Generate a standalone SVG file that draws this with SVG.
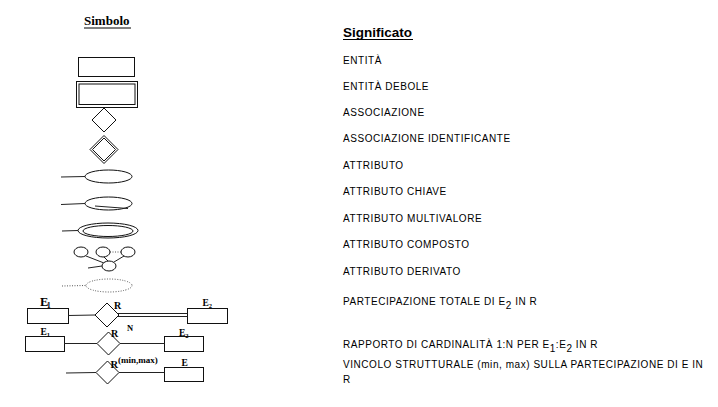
<svg xmlns="http://www.w3.org/2000/svg" width="718" height="407" viewBox="0 0 718 407">
  <style>
    .sh { fill: #fff; stroke: #111; stroke-width: 1; }
    .ln { fill: none; stroke: #222; stroke-width: 1; }
    .dot { fill: none; stroke: #555; stroke-width: 1; stroke-dasharray: 1 1.5; }
    .hd { font-family: "Liberation Serif", serif; font-weight: bold; font-size: 13px; fill: #000; }
    .lb { font-family: "Liberation Serif", serif; font-weight: bold; font-size: 9px; fill: #000; }
    .tx { font-family: "Liberation Sans", Arial, sans-serif; font-size: 10px; letter-spacing: 0.55px; fill: #000; }
    .tt { font-family: "Liberation Sans", Arial, sans-serif; font-weight: bold; font-size: 13.5px; fill: #000; }
  </style>
  <rect width="718" height="407" fill="#fff"/>

  <!-- column headings -->
  <g id="heading-symbols">
    <text class="hd" x="84" y="25">Simbolo</text>
    <line x1="84" y1="28" x2="131" y2="28" stroke="#000" stroke-width="1"/>
  </g>
  <g id="heading-meanings">
    <text class="tt" x="343" y="37">Significato</text>
    <line x1="343" y1="39.5" x2="413" y2="39.5" stroke="#000" stroke-width="1.2"/>
  </g>

  <!-- symbols -->
  <g id="entity">
    <rect class="sh" x="78.5" y="57.5" width="56" height="19"/>
  </g>
  <g id="weak-entity">
    <rect class="sh" x="76.5" y="81.5" width="61" height="26"/>
    <rect class="sh" x="79" y="84" width="56" height="20.5"/>
  </g>
  <g id="relationship">
    <polygon class="sh" points="104,108 116,120 104,132 92,120"/>
  </g>
  <g id="identifying-relationship">
    <polygon class="sh" points="104,135.5 118,149.5 104,163.5 90,149.5"/>
    <polygon class="sh" points="104,138 115.5,149.5 104,161 92.5,149.5"/>
  </g>
  <g id="attribute">
    <line class="ln" x1="61" y1="177" x2="85" y2="176.5"/>
    <ellipse class="sh" cx="108.5" cy="176.5" rx="23.5" ry="6.5"/>
  </g>
  <g id="key-attribute">
    <line class="ln" x1="61" y1="204.5" x2="85" y2="203.5"/>
    <ellipse class="sh" cx="108.5" cy="203.5" rx="23.5" ry="6.5"/>
    <line class="ln" x1="95" y1="206" x2="128" y2="208.5"/>
  </g>
  <g id="multivalued-attribute">
    <line class="ln" x1="62" y1="231" x2="78" y2="230.5"/>
    <ellipse class="sh" cx="108" cy="230.5" rx="30" ry="7.5"/>
    <ellipse class="sh" cx="108" cy="231" rx="25" ry="5.5"/>
  </g>
  <g id="composite-attribute">
    <line class="ln" x1="88" y1="268" x2="102" y2="266"/>
    <line class="ln" x1="86" y1="256" x2="104" y2="263"/>
    <line class="ln" x1="104" y1="257" x2="108" y2="261"/>
    <line class="ln" x1="124" y1="256" x2="114" y2="262"/>
    <line class="dot" x1="110" y1="252" x2="121" y2="252"/>
    <ellipse class="sh" cx="81" cy="252" rx="7" ry="5"/>
    <ellipse class="sh" cx="103" cy="252" rx="7" ry="5"/>
    <ellipse class="sh" cx="128" cy="252" rx="7" ry="5"/>
    <ellipse class="sh" cx="109" cy="266" rx="7" ry="5"/>
  </g>
  <g id="derived-attribute">
    <line class="dot" x1="62" y1="286" x2="86" y2="285.5"/>
    <ellipse class="dot" cx="109" cy="285.5" rx="23" ry="6.5"/>
  </g>

  <!-- total participation example -->
  <g id="row1-e1">
    <rect class="sh" x="27.5" y="308.5" width="41" height="15"/>
    <text class="lb" x="40" y="306" style="font-size:12.5px">E<tspan style="font-size:8px" dx="-1.5" dy="2">1</tspan></text>
  </g>
  <g id="row1-r">
    <polygon class="sh" points="107,303 119,315 107,327 95,315"/>
    <text class="lb" x="114" y="309" style="font-size:10px">R</text>
  </g>
  <g id="row1-e2">
    <rect class="sh" x="187.5" y="308.5" width="40" height="15"/>
    <text class="lb" x="202.5" y="306" style="font-size:9.5px">E<tspan style="font-size:6.5px" dy="2">2</tspan></text>
  </g>

  <!-- cardinality ratio example -->
  <g id="row2-e1">
    <rect class="sh" x="25.5" y="336.5" width="39" height="15"/>
    <text class="lb" x="40.5" y="335" style="font-size:9.5px">E<tspan style="font-size:6.5px" dy="2">1</tspan></text>
  </g>
  <g id="row2-r">
    <polygon class="sh" points="108.5,332 120,343.5 108.5,355 97,343.5"/>
    <text class="lb" x="111" y="336.5" style="font-size:10px">R</text>
    <text class="lb" x="127" y="330.5" style="font-size:8.5px">N</text>
  </g>
  <g id="row2-e2">
    <rect class="sh" x="164.5" y="336.5" width="39" height="15"/>
    <text class="lb" x="179" y="336" style="font-size:9.5px">E<tspan style="font-size:6.5px" dy="2">2</tspan></text>
  </g>

  <!-- structural constraint example -->
  <g id="row3-r">
    <polygon class="sh" points="107.5,361 119,372.5 107.5,384 96,372.5"/>
    <text class="lb" x="110.5" y="367.5" style="font-size:10.5px">R<tspan style="font-size:9px" dy="-5">(min,max)</tspan></text>
  </g>
  <g id="row3-e">
    <rect class="sh" x="164.5" y="367.5" width="39" height="14"/>
    <text class="lb" x="181.5" y="366" style="font-size:9.5px">E</text>
  </g>

  <!-- connectors -->
  <g id="connectors">
    <line class="ln" x1="68" y1="315.5" x2="95" y2="315"/>
    <line class="ln" x1="118" y1="313.5" x2="187.5" y2="313.5"/>
    <line class="ln" x1="118" y1="316.5" x2="187.5" y2="316.5"/>
    <line class="ln" x1="64" y1="343.5" x2="97" y2="343.5"/>
    <line class="ln" x1="120" y1="343.5" x2="164.5" y2="343.5"/>
    <line class="ln" x1="66" y1="373" x2="96" y2="372.5"/>
    <line class="ln" x1="119" y1="372.5" x2="164.5" y2="372.5"/>
  </g>

  <!-- meanings -->
  <g id="meanings">
    <text class="tx" x="343" y="64">ENTITÀ</text>
    <text class="tx" x="343" y="90">ENTITÀ DEBOLE</text>
    <text class="tx" x="343" y="116">ASSOCIAZIONE</text>
    <text class="tx" x="343" y="142">ASSOCIAZIONE IDENTIFICANTE</text>
    <text class="tx" x="343" y="169">ATTRIBUTO</text>
    <text class="tx" x="343" y="195">ATTRIBUTO CHIAVE</text>
    <text class="tx" x="343" y="222">ATTRIBUTO MULTIVALORE</text>
    <text class="tx" x="343" y="248">ATTRIBUTO COMPOSTO</text>
    <text class="tx" x="343" y="275">ATTRIBUTO DERIVATO</text>
    <text class="tx" x="343" y="305">PARTECIPAZIONE TOTALE DI E<tspan dy="4">2</tspan><tspan dy="-4"> IN R</tspan></text>
    <text class="tx" x="343" y="348">RAPPORTO DI CARDINALITÀ 1:N PER E<tspan dy="4">1</tspan><tspan dy="-4">:E</tspan><tspan dy="4">2</tspan><tspan dy="-4">  IN R</tspan></text>
    <text class="tx" x="343" y="368">VINCOLO STRUTTURALE (min, max) SULLA PARTECIPAZIONE DI E IN</text>
    <text class="tx" x="343" y="383">R</text>
  </g>
</svg>
